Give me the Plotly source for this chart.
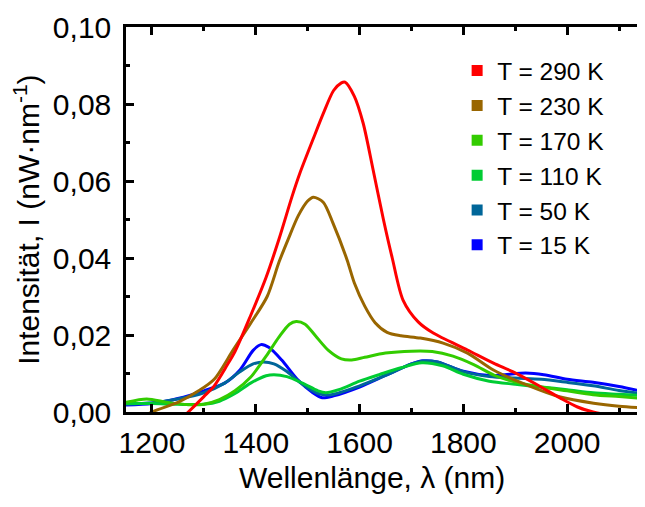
import plotly.graph_objects as go

# ---- data ----
wl_290 = [1150, 1200, 1250, 1270, 1300, 1320, 1345, 1360, 1390, 1420, 1445, 1470, 1485, 1510, 1530, 1550,
          1565, 1572, 1590, 1607, 1626, 1646, 1663, 1684, 1713, 1742, 1808, 1858, 1896, 1943, 1987, 2020,
          2050, 2100, 2150]
I_290 = [-0.012, -0.007, -0.0025, 0.0, 0.004, 0.0068, 0.0122, 0.0157, 0.025, 0.035, 0.045, 0.056, 0.062,
         0.0707, 0.0775, 0.0835, 0.0855, 0.0857, 0.082, 0.075, 0.063, 0.050, 0.040, 0.029, 0.0234, 0.0205,
         0.0161, 0.0127, 0.0104, 0.007, 0.0036, 0.0013, 0.0, -0.0012, -0.002]

wl_230 = [1150, 1200, 1250, 1290, 1320, 1356, 1390, 1422, 1445, 1462, 1482, 1500, 1511, 1530, 1549, 1576,
          1590, 1610, 1630, 1653, 1680, 1717, 1761, 1808, 1858, 1923, 1987, 2051, 2100, 2150]
I_230 = [-0.004, 0.0, 0.0025, 0.0055, 0.0085, 0.016, 0.023, 0.030, 0.039, 0.0447, 0.051, 0.0548, 0.0558,
         0.0545, 0.049, 0.0395, 0.0335, 0.0275, 0.0232, 0.0207, 0.0198, 0.0192, 0.0179, 0.0153, 0.0109,
         0.007, 0.0039, 0.0023, 0.0015, 0.001]

wl_170 = [1150, 1190, 1230, 1270, 1300, 1330, 1360, 1390, 1420, 1445, 1465, 1478, 1495, 1515, 1540, 1565,
          1585, 1610, 1650, 1700, 1740, 1780, 1820, 1860, 1900, 1950, 2000, 2050, 2100, 2150]
I_170 = [0.0025, 0.0034, 0.0025, 0.0019, 0.002, 0.0032, 0.0055, 0.009, 0.0145, 0.0195, 0.0228, 0.0235,
         0.0228, 0.0198, 0.016, 0.0138, 0.0135, 0.0142, 0.0153, 0.0158, 0.0157, 0.0145, 0.0123, 0.0095,
         0.0078, 0.0065, 0.0055, 0.0045, 0.004, 0.0035]

wl_110 = [1150, 1200, 1250, 1300, 1330, 1360, 1390, 1420, 1435, 1460, 1490, 1520, 1535, 1560, 1600, 1640,
          1680, 1720, 1760, 1800, 1850, 1900, 1950, 2000, 2050, 2100, 2150]
I_110 = [0.0022, 0.0022, 0.002, 0.002, 0.0028, 0.0048, 0.0075, 0.0094, 0.0097, 0.0092, 0.0075, 0.0055,
         0.005, 0.0058, 0.008, 0.0098, 0.0115, 0.0128, 0.012, 0.0098, 0.008, 0.0072, 0.0065, 0.0058, 0.005,
         0.0046, 0.0042]

wl_50 = [1150, 1200, 1250, 1300, 1340, 1370, 1395, 1415, 1435, 1460, 1490, 1520, 1545, 1600, 1650, 1700,
         1720, 1750, 1800, 1850, 1900, 1950, 2000, 2050, 2100, 2150]
I_50 = [0.002, 0.0024, 0.0034, 0.005, 0.0075, 0.0105, 0.0125, 0.013, 0.0125, 0.0105, 0.0072, 0.0048,
        0.0045, 0.0068, 0.0095, 0.0125, 0.0132, 0.013, 0.0105, 0.0092, 0.0088, 0.0085, 0.0077, 0.0068,
        0.0056, 0.0047]

wl_15 = [1150, 1200, 1250, 1300, 1340, 1370, 1395, 1410, 1425, 1450, 1480, 1510, 1528, 1550, 1600, 1650,
         1700, 1722, 1750, 1800, 1850, 1880, 1920, 1955, 2000, 2050, 2100, 2150]
I_15 = [0.0018, 0.0022, 0.0035, 0.0055, 0.0075, 0.011, 0.016, 0.0175, 0.0168, 0.0135, 0.0085, 0.005,
        0.0037, 0.0042, 0.0065, 0.0095, 0.0125, 0.0133, 0.013, 0.0106, 0.0095, 0.0097, 0.0101, 0.0097,
        0.0085, 0.0077, 0.0066, 0.0052]

series_names = ["T = 290 K", "T = 230 K", "T = 170 K", "T = 110 K", "T = 50 K", "T = 15 K"]
series_x = [wl_290, wl_230, wl_170, wl_110, wl_50, wl_15]
series_y = [I_290, I_230, I_170, I_110, I_50, I_15]
colors = ["#FF0000", "#996600", "#33CC00", "#00CC33", "#006699", "#0000FF"]

x_title = "Wellenlänge, λ (nm)"
y_title = "Intensität, I (nW·nm<sup>-1</sup>)"

FONT = "Liberation Sans, Arial, sans-serif"
TICK_SIZE = 30
XTITLE_SIZE = 30
YTITLE_SIZE = 30
LEG_SIZE = 24.5

fig = go.Figure()
# curves (lower temperatures drawn last, so blue is on top)
for name, xs, ys, c in reversed(list(zip(series_names, series_x, series_y, colors))):
    fig.add_trace(go.Scatter(x=xs, y=ys, mode="lines",
                             line=dict(color=c, width=3, shape="spline", smoothing=0.8),
                             showlegend=False, hoverinfo="skip"))
# legend entries with rectangular colour symbols
for name, c in zip(series_names, colors):
    fig.add_trace(go.Scatter(x=[None], y=[None], mode="markers", name=name,
                             marker=dict(symbol="square", size=11, color=c)))

axis_common = dict(
    showline=True, linecolor="black", linewidth=2.5,
    ticks="inside", ticklen=8, tickwidth=2.5, tickcolor="black",
    showgrid=False, zeroline=False,
    tickfont=dict(family=FONT, size=TICK_SIZE, color="black"),
)

fig.update_xaxes(range=[1150, 2134.6], dtick=200, tick0=1200, mirror="allticks", ticklabelstandoff=2,
                 minor=dict(ticks="inside", ticklen=4, tickwidth=2.5, dtick=100, tick0=1100, tickcolor="black"),
                 **axis_common)
fig.update_yaxes(range=[0, 0.1], dtick=0.02, tickformat=".2f", mirror=False, ticklabelstandoff=6,
                 minor=dict(ticks="inside", ticklen=4, tickwidth=2.5, dtick=0.01, tickcolor="black"),
                 **axis_common)

# axis titles placed as annotations for exact positioning
fig.add_annotation(text=x_title, xref="paper", yref="paper", x=0.481, y=-0.171,
                   xanchor="center", yanchor="middle", showarrow=False,
                   font=dict(family=FONT, size=XTITLE_SIZE, color="black"))
fig.add_annotation(text=y_title, xref="paper", yref="paper", x=-0.195, y=0.5,
                   xanchor="center", yanchor="middle", showarrow=False, textangle=-90,
                   font=dict(family=FONT, size=YTITLE_SIZE, color="black"))

fig.update_layout(
    width=629, height=491,
    margin=dict(l=118, r=0, t=19, b=87),
    plot_bgcolor="white", paper_bgcolor="white",
    separators=",.",
    font=dict(family=FONT, size=TICK_SIZE, color="black"),
    legend=dict(x=0.648, y=0.945, xanchor="left", yanchor="top", bgcolor="rgba(0,0,0,0)",
                font=dict(family=FONT, size=LEG_SIZE, color="black"), tracegroupgap=0),
)

fig.write_html("out.html")
